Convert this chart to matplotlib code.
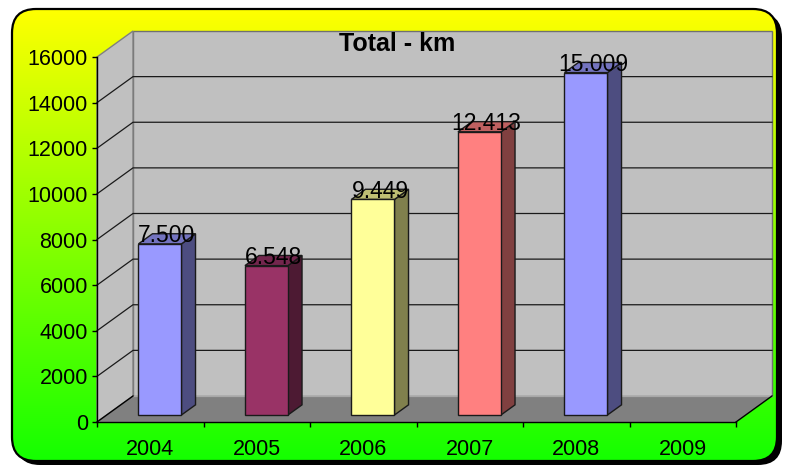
import numpy as np
import matplotlib
matplotlib.use("Agg")
import matplotlib.pyplot as plt
from matplotlib.patches import Polygon, FancyBboxPatch
from matplotlib.colors import LinearSegmentedColormap, to_rgb

years = ['2004', '2005', '2006', '2007', '2008', '2009']
km_total = [7500, 6548, 9449, 12413, 15009, None]
bar_colors = ['#9999FF', '#993366', '#FFFF99', '#FF8080', '#9999FF', '#9999FF']
y_ticks = np.arange(0, 16001, 2000)

plt.rcParams['font.family'] = ['Liberation Sans', 'DejaVu Sans']

W, H = 790, 466
fig = plt.figure(figsize=(W / 100, H / 100), dpi=100)

# background: rounded box with yellow -> green gradient and a drop shadow
bg = fig.add_axes([0, 0, 1, 1])
bg.axis('off')
shadow = FancyBboxPatch((16, 13), 766, 452, boxstyle='round,pad=0,rounding_size=24',
                        fc='black', ec='none', zorder=0.5)
bg.add_patch(shadow)
box = FancyBboxPatch((12, 9), 765, 452, boxstyle='round,pad=0,rounding_size=24',
                     fc='none', ec='black', lw=1.6, zorder=2)
bg.add_patch(box)
cmap = LinearSegmentedColormap.from_list('yg', ['#FFFF00', '#14FF00'])
grad = np.linspace(0, 1, 256)[:, None]
im = bg.imshow(grad, cmap=cmap, extent=(12, 777, 461, 9), aspect='auto', zorder=1)
im.set_clip_path(box)
bg.set_xlim(0, W)
bg.set_ylim(H, 0)

# front plane of the 3D chart
left_px, right_px, top_px, bot_px = 97, 736, 57, 422
ax = fig.add_axes([left_px / W, 1 - bot_px / H, (right_px - left_px) / W, (bot_px - top_px) / H])
n = len(years)
ymax = 16000
ax.set_xlim(0, n)
ax.set_ylim(0, ymax)
ax.patch.set_visible(False)

# depth offset (36 px right, 26 px up) in data units
DX = 36 / ((right_px - left_px) / n)
DY = 26 * ymax / (bot_px - top_px)

ax.add_patch(Polygon([(0, 0), (n, 0), (n + DX, DY), (DX, DY)], closed=True,
                     fc='#808080', ec='none', clip_on=False, zorder=1))
ax.add_patch(Polygon([(DX, DY), (n + DX, DY), (n + DX, ymax + DY), (DX, ymax + DY)], closed=True,
                     fc='#C0C0C0', ec='#707070', lw=1, clip_on=False, zorder=1))
ax.add_patch(Polygon([(0, 0), (DX, DY), (DX, ymax + DY), (0, ymax)], closed=True,
                     fc='#C0C0C0', ec='#808080', lw=1, clip_on=False, zorder=1))
ax.plot([DX, n + DX], [DY, DY], color='#A8A8A8', lw=1, clip_on=False, zorder=1.2)

for v in y_ticks[1:-1]:
    ax.plot([0, DX, n + DX], [v, v + DY, v + DY], color='#1a1a1a', lw=0.9,
            clip_on=False, zorder=1.5)

ax.plot([0, DX], [0, DY], color='black', lw=1, clip_on=False, zorder=1.6)
ax.plot([n, n + DX], [0, DY], color='black', lw=1, clip_on=False, zorder=1.6)

# bars
width = 0.404
d0, d1 = 0.27, 0.66
for i, (v, c) in enumerate(zip(km_total, bar_colors)):
    if v is None:
        continue
    rgb = np.array(to_rgb(c))
    x0 = i + 0.5 - width / 2
    x1 = x0 + width
    fx0, fx1 = x0 + d0 * DX, x1 + d0 * DX
    bx0, bx1 = x0 + d1 * DX, x1 + d1 * DX
    fy, by = d0 * DY, d1 * DY
    kw = dict(closed=True, ec='#1a1a1a', lw=1, clip_on=False, zorder=3)
    ax.add_patch(Polygon([(fx1, fy), (bx1, by), (bx1, v + by), (fx1, v + fy)], fc=rgb * 0.5, **kw))
    ax.add_patch(Polygon([(fx0, v + fy), (fx1, v + fy), (bx1, v + by), (bx0, v + by)], fc=rgb * 0.75, **kw))
    ax.add_patch(Polygon([(fx0, fy), (fx1, fy), (fx1, v + fy), (fx0, v + fy)], fc=rgb, **kw))
    cx = (x0 + x1) / 2 + (d0 + d1) / 2 * DX
    ax.annotate(f"{v:,}".replace(',', '.'), (cx, v + fy), xytext=(0, 1),
                textcoords='offset points', ha='center', va='baseline',
                fontsize=16.5, zorder=5, annotation_clip=False)

for side in ['top', 'right']:
    ax.spines[side].set_visible(False)
for side in ['left', 'bottom']:
    ax.spines[side].set_color('black')
    ax.spines[side].set_linewidth(1)
    ax.spines[side].set_zorder(4)

ax.set_yticks(y_ticks)
ax.set_yticklabels([str(v) for v in y_ticks])
ax.tick_params(axis='y', length=3.6, width=1, pad=3, labelsize=15.5)
ax.set_xticks(range(n + 1))
ax.set_xticklabels([])
ax.set_xticks(np.arange(n) + 0.5, minor=True)
ax.set_xticklabels(years, minor=True)
ax.tick_params(axis='x', which='major', length=3.6, width=1)
ax.tick_params(axis='x', which='minor', length=0, pad=12, labelsize=15.5)

fig.text(397 / W, 1 - 51 / H, 'Total - km', ha='center', va='baseline',
         fontsize=18, fontweight='bold')

fig.savefig('out.png', dpi=100)
